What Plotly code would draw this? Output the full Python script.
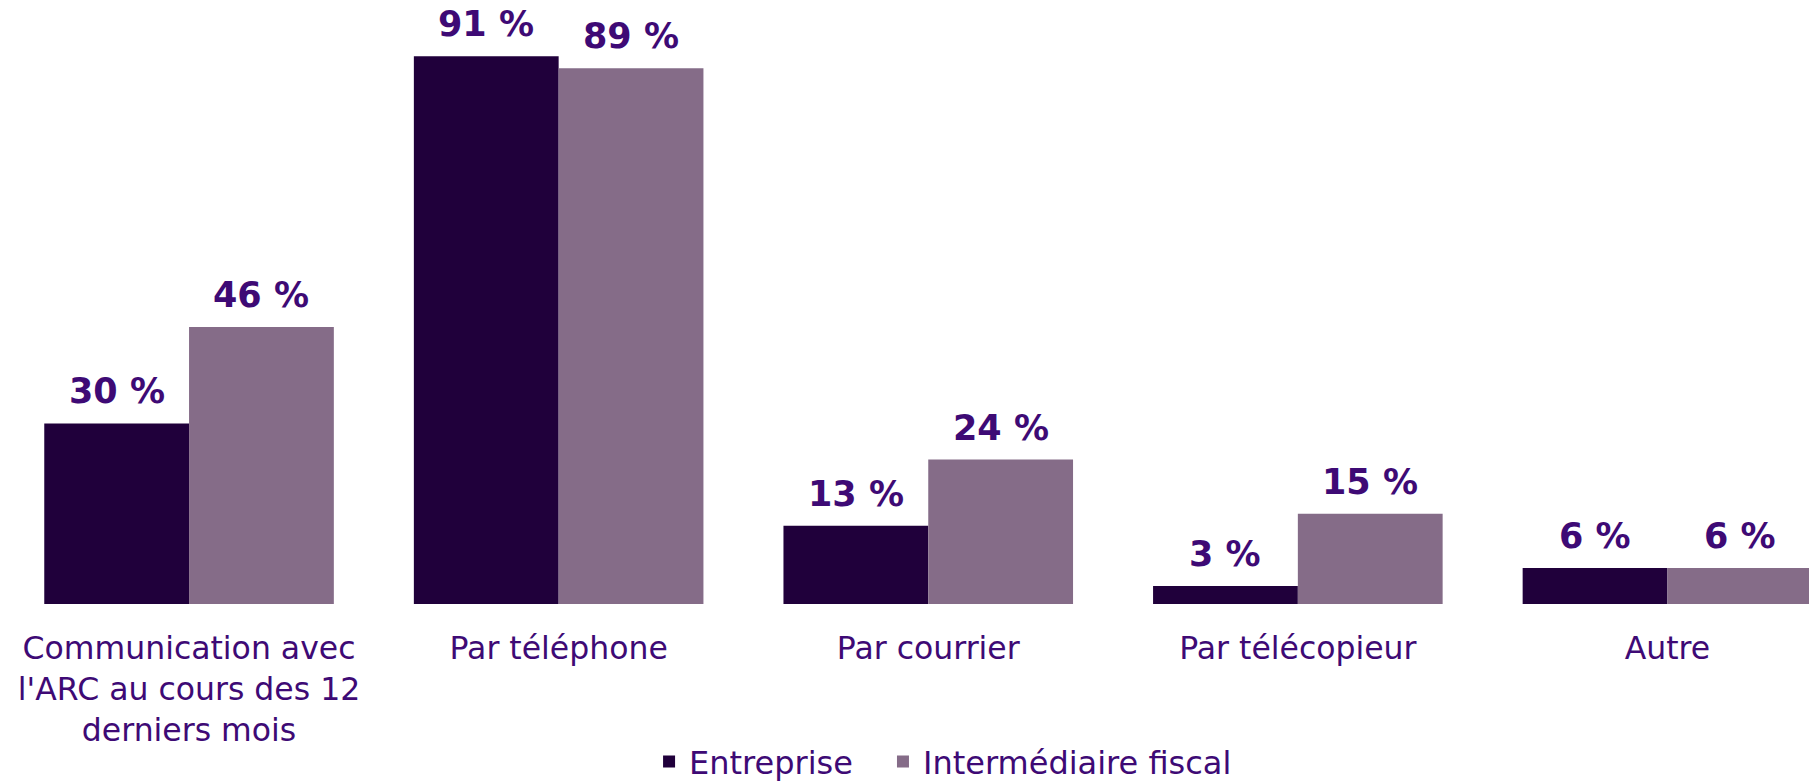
import plotly.graph_objects as go

categories = ["Communication avec<br>l'ARC au cours des 12<br>derniers mois",
              "Par téléphone", "Par courrier", "Par télécopieur", "Autre"]
entreprise = [30, 91, 13, 3, 6]
intermediaire = [46, 89, 24, 15, 6]
series_names = ["Entreprise", "Intermédiaire fiscal"]

dark = "#20003B"
light = "#856C88"
txt = "#3E0A75"
font_family = "DejaVu Sans, Verdana, sans-serif"

fig = go.Figure()
for name, vals, col, lg in [(series_names[0], entreprise, dark, "legend"),
                            (series_names[1], intermediaire, light, "legend2")]:
    fig.add_trace(go.Bar(
        x=categories, y=vals, name=name, legend=lg,
        marker=dict(color=col, line=dict(width=0)),
        cliponaxis=True,
    ))

# value labels
cat_px = 369.6
bar_px = (1 - 0.2165) * cat_px / 2
for vals, sh in [(entreprise, -bar_px / 2), (intermediaire, bar_px / 2)]:
    for c, v in zip(categories, vals):
        fig.add_annotation(x=c, y=v, text=f"<b>{v} %</b>", showarrow=False,
                           xshift=sh, yshift=11, yanchor="bottom", borderpad=0,
                           font=dict(family=font_family, size=35, color=txt))

leg_common = dict(orientation="h", xref="paper", xanchor="left",
                  yref="paper", y=-0.2610, yanchor="middle",
                  font=dict(size=32, color=txt, family=font_family),
                  bgcolor="rgba(0,0,0,0)")
fig.update_layout(
    width=1809, height=783,
    margin=dict(l=0, r=0, t=0, b=179, autoexpand=False),
    plot_bgcolor="white", paper_bgcolor="white",
    barmode="group", bargap=0.2165, bargroupgap=0,
    font=dict(family=font_family, color=txt, size=31),
    showlegend=True,
    legend=dict(x=0.3588, **leg_common),
    legend2=dict(x=0.4881, **leg_common),
)
fig.update_xaxes(range=[-0.5115, 4.3830], showline=False, showgrid=False, zeroline=False,
                 automargin=False,
                 ticks="outside", ticklen=16, tickcolor="rgba(0,0,0,0)",
                 tickfont=dict(size=31.5, color=txt), tickangle=0)
fig.update_yaxes(range=[0, 100.33], visible=False, automargin=False)

fig.write_html("out.html", config={"displayModeBar": False},
               post_script="document.body.style.margin='0';document.body.style.overflow='hidden';")
